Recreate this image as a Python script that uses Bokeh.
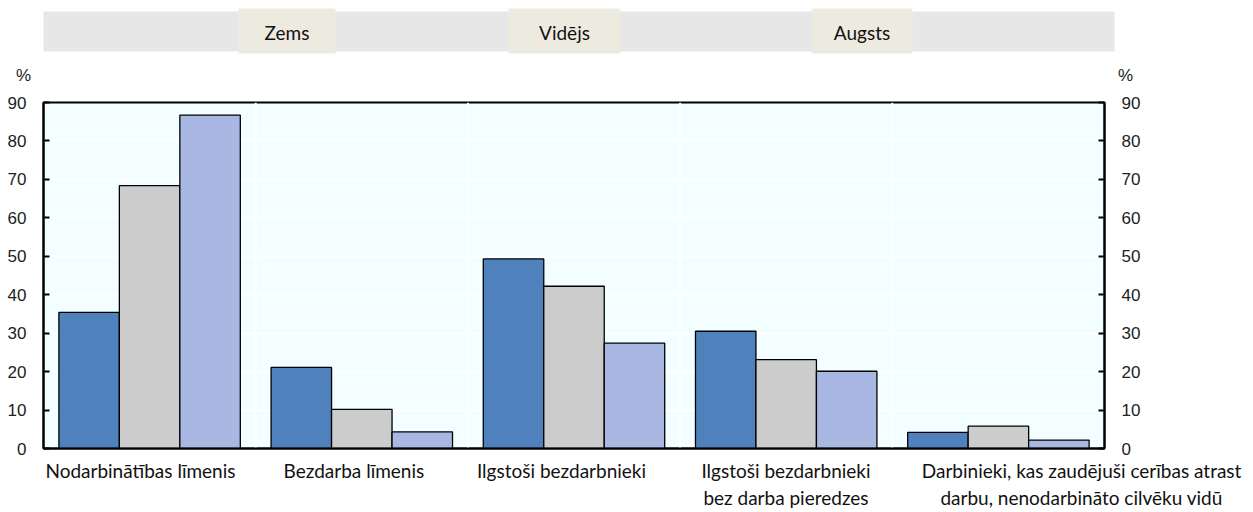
from bokeh.plotting import figure
from bokeh.layouts import column
from bokeh.models import (Range1d, FixedTicker, LinearAxis, Span, ColumnDataSource,
                          CustomJSTickFormatter)
from bokeh.transform import dodge
from bokeh.core.properties import value
from bokeh.embed import file_html
from bokeh.resources import INLINE

# ---- data ----
categories = [
    "Nodarbinātības līmenis",
    "Bezdarba līmenis",
    "Ilgstoši bezdarbnieki",
    "Ilgstoši bezdarbnieki bez darba pieredzes",
    "Darbinieki, kas zaudējuši cerības atrast darbu, nenodarbināto cilvēku vidū",
]
category_labels = [
    "Nodarbinātības līmenis",
    "Bezdarba līmenis",
    "Ilgstoši bezdarbnieki",
    "Ilgstoši bezdarbnieki\nbez darba pieredzes",
    "Darbinieki, kas zaudējuši cerības atrast\ndarbu, nenodarbināto cilvēku vidū",
]
series_names = ["Zems", "Vidējs", "Augsts"]
zems = [35.4, 21.1, 49.3, 30.5, 4.2]
videjs = [68.4, 10.2, 42.2, 23.1, 5.8]
augsts = [86.7, 4.3, 27.4, 20.1, 2.2]
y_ticks = [0, 10, 20, 30, 40, 50, 60, 70, 80, 90]

# ---- styles / layout ----
W = 1253
colors = ["#4F81BD", "#CCCCCC", "#A8B8E2"]
LABEL_FONT = "Lato"
TICK_FONT = "Liberation Sans"
# centre of each category label, in category units (category i spans i..i+1)
label_pos = [0.457, 1.463, 2.441, 3.499, 4.892]

# ---- legend strip (top) ----
LH = 88
leg = figure(width=W, height=LH, x_range=Range1d(0, W), y_range=Range1d(LH, 0),
             output_backend="svg", toolbar_location=None, min_border=0,
             x_axis_location=None, y_axis_location=None)
leg.grid.visible = False
leg.outline_line_color = None
leg.background_fill_color = "white"
leg.border_fill_color = "white"
leg.quad(left=43, right=1114, top=11, bottom=51, fill_color="#E7E7E7", line_color=None)
box_left = [238, 508, 811]
box_right = [335, 620, 912]
leg.quad(left=box_left, right=box_right, top=8, bottom=53, fill_color="#EDEBE0", line_color=None)
leg.text(x=[(a + b) / 2 for a, b in zip(box_left, box_right)], y=[32, 32, 32], text=series_names,
         text_font=value(LABEL_FONT), text_font_size="19px", text_color="#111111",
         text_align="center", text_baseline="middle")
leg.text(x=[23, 1125], y=[75, 75], text=["%", "%"], text_font=value(TICK_FONT),
         text_font_size="17px", text_color="#222222", text_align="center", text_baseline="middle")

# ---- main chart ----
n = len(categories)
p = figure(width=W, height=512 - LH, x_range=Range1d(0, n),
           y_range=Range1d(0, 90), output_backend="svg", toolbar_location=None,
           x_axis_location=None,
           min_border_left=43, min_border_right=149, min_border_top=14, min_border_bottom=62)
p.background_fill_color = "#F2FEFF"
p.border_fill_color = "white"
p.outline_line_color = "black"
p.outline_line_width = 2

for f in (leg, p):
    try:
        f.frame_align = False
    except Exception:
        pass

src = ColumnDataSource(dict(cat=categories, pos=[i + 0.5 for i in range(n)],
                            zems=zems, videjs=videjs, augsts=augsts))
bw = 0.285
for key, off, col in zip(["zems", "videjs", "augsts"], [-bw, 0, bw], colors):
    p.vbar(x=dodge("pos", off), top=key, bottom=0, width=bw, source=src,
           fill_color=col, line_color="black", line_width=1.3)

# grids
p.xgrid.visible = False
p.ygrid.ticker = FixedTicker(ticks=y_ticks)
p.ygrid.grid_line_color = "white"
p.ygrid.grid_line_width = 2
for b in range(1, n):
    p.add_layout(Span(location=b, dimension="height", line_color="white", line_width=2, level="underlay"))

# y axes
p.add_layout(LinearAxis(), "right")
for ax in p.yaxis:
    ax.ticker = FixedTicker(ticks=y_ticks)
    ax.major_tick_in = 6
    ax.major_tick_out = 0
    ax.minor_tick_line_color = None
    ax.major_tick_line_width = 2
    ax.axis_line_width = 2
    ax.axis_line_color = "black"
    ax.major_label_text_font = TICK_FONT
    ax.major_label_text_font_size = "17px"
    ax.major_label_text_color = "#222222"
    ax.major_label_standoff = 17

# category axis
fmt = CustomJSTickFormatter(args=dict(pos=label_pos, labels=category_labels), code="""
    for (let i = 0; i < pos.length; i++) {
        if (Math.abs(pos[i] - tick) < 1e-6) { return labels[i] }
    }
    return ""
""")
xax = LinearAxis(ticker=FixedTicker(ticks=label_pos), formatter=fmt)
xax.major_tick_line_color = None
xax.minor_tick_line_color = None
xax.axis_line_width = 2
xax.axis_line_color = "black"
xax.major_label_text_font = LABEL_FONT
xax.major_label_text_font_size = "19px"
xax.major_label_text_color = "#111111"
xax.major_label_text_line_height = 1.2
xax.major_label_standoff = 4
p.add_layout(xax, "below")

layout = column(leg, p)
open("out.html", "w").write(file_html(layout, INLINE))
